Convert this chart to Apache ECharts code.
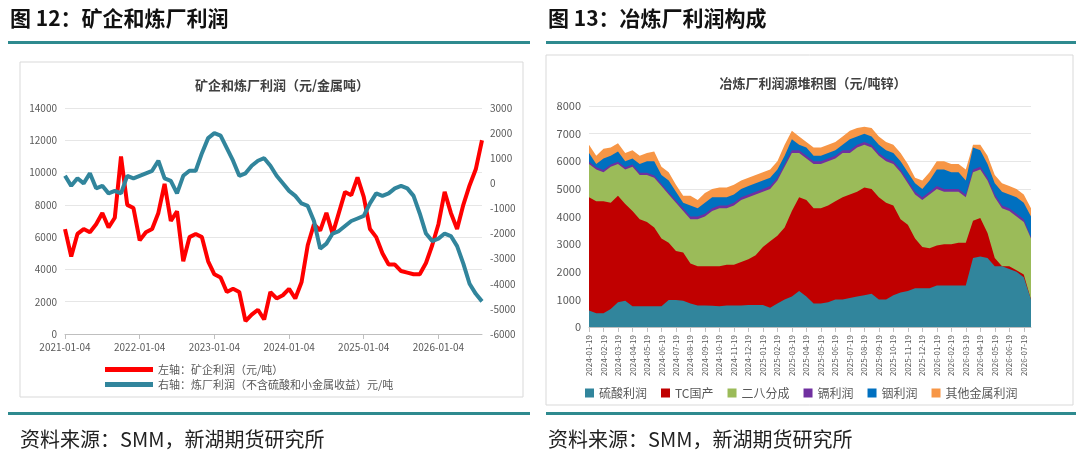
<!DOCTYPE html>
<html><head><meta charset="utf-8">
<script src="https://cdn.jsdelivr.net/npm/echarts@6/dist/echarts.min.js"></script>
<style>html,body{margin:0;padding:0;background:#fff}#c{width:1080px;height:463px}</style>
</head><body><div id="c"></div>
<script>
// Left chart: monthly readings 2021-01 .. 2026-08
const leftDates = [];
for (let y = 2021; y <= 2026; y++) for (let m = 1; m <= 12; m++) { if (y === 2026 && m > 8) break; leftDates.push(y + '-' + String(m).padStart(2,'0') + '-04'); }
const mineProfit = [6500,4800,6200,6500,6300,6800,7500,6600,7200,11000,8000,7800,
  5800,6300,6500,7500,9300,7000,7600,4500,6000,6200,6000,4500,
  3700,3500,2600,2800,2600,800,1200,1500,900,2600,2200,2400,
  2800,2200,3200,5500,6800,6400,7500,6200,7500,8800,8600,9700,
  8500,6500,6000,5000,4300,4300,3900,3800,3700,3700,4400,5500,
  6800,8800,7500,6500,8000,9200,10200,12000];
const smelterProfit = [300,-100,200,0,400,-200,-100,-400,-300,-400,300,200,
  300,400,500,900,200,100,-400,300,500,500,1200,1800,
  2000,1900,1400,900,300,400,700,900,1000,700,300,0,
  -300,-500,-800,-900,-1500,-2600,-2400,-2000,-1900,-1700,-1500,-1400,
  -1300,-800,-400,-500,-400,-200,-100,-200,-500,-1200,-2000,-2300,
  -2200,-2000,-2100,-2500,-3200,-4000,-4400,-4700];

// Right chart: semi-monthly readings, cumulative stack tops
const rightDates = [];
for (let y = 2024; y <= 2026; y++) for (let m = 1; m <= 12; m++) {
  if (y === 2026 && m > 7) break;
  const mm = String(m).padStart(2,'0');
  rightDates.push(y + '-' + mm + '-19');
  rightDates.push(y + '-' + mm + '-30');
}
rightDates.pop();
rightDates.push('2026-08-01');
const sulfuricTop = [600,500,500,650,900,950,750,750,750,750,750,980,980,950,850,780,780,770,750,780,780,780,800,800,800,700,850,1000,1100,1300,1100,850,850,900,1000,1000,1050,1100,1150,1200,1000,1000,1150,1250,1300,1400,1400,1400,1500,1500,1500,1500,1500,2500,2550,2500,2200,2200,2100,2000,1800,1000];
const tcTop = [4700,4550,4550,4500,4750,4450,4200,3900,3800,3600,3200,3050,2750,2700,2300,2200,2200,2200,2200,2250,2250,2350,2450,2600,2900,3100,3300,3600,4200,4700,4600,4300,4300,4400,4550,4700,4800,4900,5050,5000,4700,4500,4400,3900,3700,3200,2900,2850,2950,3000,3000,3050,3050,3850,3950,3400,2500,2200,2200,2050,1900,1000];
const splitTop = [5900,5700,5600,5800,5900,5700,5800,5500,5500,5400,5100,4800,4500,4200,3900,3900,4000,4200,4300,4300,4400,4600,4700,4800,4900,5000,5300,5800,6300,6300,6100,5900,5900,6000,6100,6300,6300,6500,6600,6500,6200,6000,5900,5600,5200,4800,4600,4800,5000,4900,4900,4900,4700,5600,5700,5300,4700,4300,4200,4000,3800,3200];
const cadmiumTop = [5980,5780,5680,5880,5980,5780,5880,5580,5580,5480,5180,4880,4580,4300,4000,4000,4100,4300,4400,4400,4500,4700,4800,4900,5000,5100,5400,5900,6400,6400,6200,6000,6000,6100,6200,6400,6400,6600,6700,6600,6300,6100,6000,5700,5300,4900,4700,4900,5100,5000,5000,5000,4800,5700,5800,5400,4800,4400,4300,4100,3900,3250];
const indiumTop = [6300,5900,6100,6200,6350,6000,6100,5900,6000,6000,5500,5300,4900,4500,4400,4300,4500,4700,4700,4700,4800,5000,5100,5200,5300,5400,5700,6200,6800,6600,6500,6200,6200,6300,6400,6600,6800,6900,7000,6900,6600,6400,6300,6000,5600,5200,5000,5300,5700,5700,5600,5600,5300,6500,6400,5900,5200,4900,4800,4700,4500,4000];
const otherTop = [6600,6200,6450,6500,6650,6300,6400,6200,6300,6350,5800,5600,5150,4750,4750,4600,4850,5000,5050,5050,5150,5300,5400,5500,5600,5700,6000,6600,7100,6900,6700,6500,6500,6600,6700,6900,7100,7200,7250,7200,6900,6700,6600,6300,5900,5400,5300,5600,6000,6000,5900,5900,5700,6600,6600,6200,5500,5200,5100,5000,4800,4300];

const CJK = '"Noto Sans CJK SC", sans-serif';
const teal = '#2e8a8f';
const plain = v => String(v);
const chart = echarts.init(document.getElementById('c'));
function area(name, data, color, z) {
  return {name, type:'line', xAxisIndex:1, yAxisIndex:2, data, symbol:'none', z,
    lineStyle:{width:0}, areaStyle:{color, opacity:1}, itemStyle:{color}};
}
chart.setOption({
  animation:false,
  textStyle:{fontFamily:CJK},
  title:[
    {text:'矿企和炼厂利润（元/金属吨）', left:277, top:74, textAlign:'center', textStyle:{fontSize:13, fontWeight:'bold', color:'#404040', fontFamily:CJK}},
    {text:'冶炼厂利润源堆积图（元/吨锌）', left:808, top:72, textAlign:'center', textStyle:{fontSize:13, fontWeight:'bold', color:'#404040', fontFamily:CJK}}
  ],
  graphic:[
    {type:'text', left:10, top:8, style:{text:'图 12：矿企和炼厂利润', font:'bold 21px "Noto Sans CJK SC"', fill:'#111'}},
    {type:'text', left:548, top:8, style:{text:'图 13：冶炼厂利润构成', font:'bold 21px "Noto Sans CJK SC"', fill:'#111'}},
    {type:'rect', shape:{x:8, y:41, width:522, height:3}, style:{fill:teal}},
    {type:'rect', shape:{x:546, y:41, width:530, height:3}, style:{fill:teal}},
    {type:'rect', shape:{x:8, y:412, width:522, height:3}, style:{fill:teal}},
    {type:'rect', shape:{x:546, y:412, width:530, height:3}, style:{fill:teal}},
    {type:'rect', shape:{x:20, y:62, width:503, height:335}, style:{fill:'none', stroke:'#d9d9d9', lineWidth:1}},
    {type:'rect', shape:{x:546, y:55, width:527, height:350}, style:{fill:'none', stroke:'#d9d9d9', lineWidth:1}},
    {type:'text', left:20, top:429, style:{text:'资料来源：SMM，新湖期货研究所', font:'20px "Noto Sans CJK SC"', fill:'#222'}},
    {type:'text', left:548, top:429, style:{text:'资料来源：SMM，新湖期货研究所', font:'20px "Noto Sans CJK SC"', fill:'#222'}}
  ],
  legend:[
    {orient:'vertical', left:100, top:359, itemWidth:48, itemHeight:5, itemGap:4, data:['左轴：矿企利润（元/吨）','右轴：炼厂利润（不含硫酸和小金属收益）元/吨'],
     textStyle:{fontSize:11, color:'#595959'}, icon:'rect'},
    {orient:'horizontal', left:580, top:382, itemWidth:9, itemHeight:9, itemGap:14, data:['硫酸利润','TC国产','二八分成','镉利润','铟利润','其他金属利润'],
     textStyle:{fontSize:12, color:'#595959'}, icon:'rect'}
  ],
  grid:[
    {left:65, width:417, top:108, height:226},
    {left:589, width:442, top:106, height:221}
  ],
  xAxis:[
    {type:'category', gridIndex:0, data:leftDates, boundaryGap:false,
     axisLine:{lineStyle:{color:'#bfbfbf'}},
     axisTick:{interval:(i,v)=>v.slice(5,7)==='01', lineStyle:{color:'#bfbfbf'}},
     axisLabel:{interval:(i,v)=>v.slice(5,7)==='01', color:'#595959', fontSize:10}},
    {type:'category', gridIndex:1, data:rightDates, boundaryGap:false,
     axisLine:{lineStyle:{color:'#bfbfbf'}},
     axisTick:{interval:(i,v)=>v.slice(8)==='19', lineStyle:{color:'#bfbfbf'}},
     axisLabel:{interval:(i,v)=>v.slice(8)==='19', rotate:90, color:'#595959', fontSize:8}}
  ],
  yAxis:[
    {type:'value', gridIndex:0, min:0, max:14000, interval:2000,
     axisLabel:{color:'#595959', fontSize:10, formatter:plain}, splitLine:{lineStyle:{color:'#e6e6e6'}}},
    {type:'value', gridIndex:0, min:-6000, max:3000, interval:1000, position:'right',
     axisLabel:{color:'#595959', fontSize:10, formatter:plain}, splitLine:{show:false}},
    {type:'value', gridIndex:1, min:0, max:8000, interval:1000,
     axisLabel:{color:'#595959', fontSize:11, formatter:plain}, splitLine:{lineStyle:{color:'#e6e6e6'}}}
  ],
  series:[
    {name:'左轴：矿企利润（元/吨）', type:'line', xAxisIndex:0, yAxisIndex:0, data:mineProfit, symbol:'none',
     lineStyle:{width:4, color:'#ff0000'}, itemStyle:{color:'#ff0000'}, z:3},
    {name:'右轴：炼厂利润（不含硫酸和小金属收益）元/吨', type:'line', xAxisIndex:0, yAxisIndex:1, data:smelterProfit, symbol:'none',
     lineStyle:{width:4, color:'#31859c'}, itemStyle:{color:'#31859c'}, z:3},
    area('其他金属利润', otherTop, '#f79646', 2),
    area('铟利润', indiumTop, '#0070c0', 3),
    area('镉利润', cadmiumTop, '#7030a0', 4),
    area('二八分成', splitTop, '#9bbb59', 5),
    area('TC国产', tcTop, '#c00000', 6),
    area('硫酸利润', sulfuricTop, '#31859c', 7)
  ]
});
</script></body></html>
